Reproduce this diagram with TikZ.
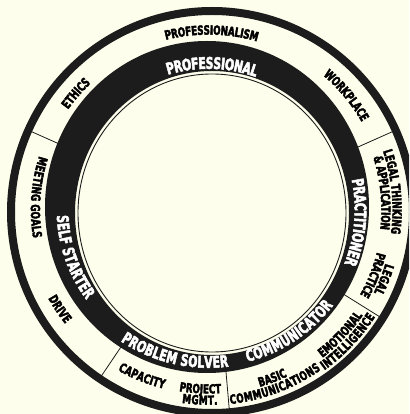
\documentclass[tikz,border=0pt]{standalone}
\usepackage{fontspec}
\usetikzlibrary{decorations.text}
\newfontfamily\lblfont{DejaVu Sans}[FakeStretch=0.7, FakeBold=3]
\newfontfamily\bandfont{DejaVu Sans}[FakeStretch=0.67, FakeBold=3]
\definecolor{paper}{RGB}{254,254,236}
\definecolor{ink}{RGB}{28,28,28}
\newcommand{\smalllbl}{\lblfont\bfseries\fontsize{12.6}{14}\selectfont}
\newcommand{\bandlbl}{\bandfont\bfseries\fontsize{16}{18}\selectfont\color{white}}
\tikzset{
  ringtext/.style 2 args={decorate,
    decoration={text along path, text align=center, raise=#1, text={#2}}},
}
% labels along arcs: angle, radius, raise, text
\newcommand{\cwlabel}[4]{%
  \path[ringtext={#3}{#4}] ({#1+60}:#2pt) arc[start angle={#1+60}, end angle={#1-60}, radius=#2pt];}
\newcommand{\ccwlabel}[4]{%
  \path[ringtext={#3}{#4}] ({#1-60}:#2pt) arc[start angle={#1-60}, end angle={#1+60}, radius=#2pt];}

\begin{document}
\begin{tikzpicture}[x=1pt,y=1pt]
  \useasboundingbox (-212,-202) rectangle (197,212);
  \fill[paper] (-212,-202) rectangle (197,212);
  \clip (-212,-202) rectangle (197,212);
  % dividers of the outer band
  \foreach \a/\r in {156/150, 24/150, -32/145, -85/150, -124/150}
    \draw[ink, line width=0.8pt] (\a:\r pt) -- (\a:200pt);
  % rings
  \draw[ink, line width=8pt] (0,0) circle[radius=201pt];
  \fill[ink, even odd rule] (-5,5) ellipse[x radius=162pt, y radius=166pt]
    (0,-1) ellipse[x radius=137pt, y radius=142pt];
  \draw[ink, line width=0.9pt] (0,-1) ellipse[x radius=134pt, y radius=139pt];
  \begin{scope}[shift={(-3.5,2.5)}]
    % outer band
    \cwlabel{89}{179.5}{-4.6pt}{|\smalllbl|PROFESSIONALISM}
    \cwlabel{39.6}{181}{-4.6pt}{|\smalllbl|WORKPLACE}
    \cwlabel{138.8}{177}{-4.6pt}{|\smalllbl|ETHICS}
    \cwlabel{5.5}{183}{1pt}{|\smalllbl|LEGAL THINKING}
    \cwlabel{5.5}{183}{-10.2pt}{|\smalllbl|{\&} APPLICATION}
    \cwlabel{-21.8}{184}{1pt}{|\smalllbl|LEGAL}
    \cwlabel{-21.8}{184}{-10.2pt}{|\smalllbl|PRACTICE}
    \ccwlabel{-43.5}{188}{1pt}{|\smalllbl|EMOTIONAL}
    \ccwlabel{-43.5}{188}{-10.2pt}{|\smalllbl|INTELLIGENCE}
    \ccwlabel{-69.3}{185.6}{1pt}{|\smalllbl|BASIC}
    \ccwlabel{-69.3}{185.6}{-10.2pt}{|\smalllbl|COMMUNICATIONS}
    \ccwlabel{-92.6}{185}{1pt}{|\smalllbl|PROJECT}
    \ccwlabel{-92.6}{185}{-10.2pt}{|\smalllbl|MGMT.}
    \ccwlabel{-111.7}{180}{-4.6pt}{|\smalllbl|CAPACITY}
    \ccwlabel{-146.2}{178.7}{-4.6pt}{|\smalllbl|DRIVE}
    \ccwlabel{-184.1}{173}{-4.6pt}{|\smalllbl|MEETING GOALS}
    % black band
    \cwlabel{88.6}{146.5}{-5.8pt}{|\bandlbl|PROFESSIONAL}
    \cwlabel{-5}{152}{-5.8pt}{|\bandlbl|PRACTITIONER}
    \ccwlabel{-56.6}{151.5}{-5.8pt}{|\bandlbl|COMMUNICATOR}
    \ccwlabel{-103.2}{152.5}{-5.8pt}{|\bandlbl|PROBLEM SOLVER}
    \ccwlabel{-160.6}{146}{-5.8pt}{|\bandlbl|SELF STARTER}
  \end{scope}
\end{tikzpicture}
\end{document}
